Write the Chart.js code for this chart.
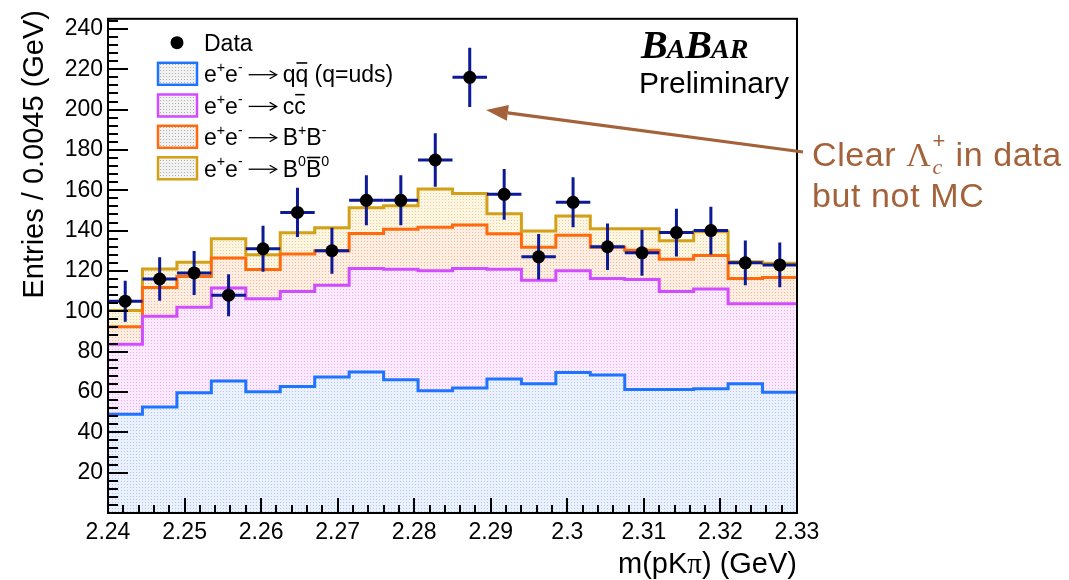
<!DOCTYPE html>
<html>
<head>
<meta charset="utf-8">
<script src="https://cdn.jsdelivr.net/npm/chart.js@4/dist/chart.umd.min.js"></script>
<style>
html,body{margin:0;padding:0;background:#fff;}
#wrap{width:1069px;height:580px;position:relative;}
</style>
</head>
<body>
<div id="wrap"><canvas id="c" width="1069" height="580"></canvas></div>
<script>
// ---- binning (categories) ----
const binLow = 2.24;
const binWidth = 0.0045;

// ---- data ----
const dataCounts = [105,116,119,108,131,149,130,155,155,175,216,158,127,154,132,129,139,140,124,123];
const dataErrors = [10.2,10.8,10.9,10.4,11.4,12.2,11.4,12.4,12.4,13.2,14.7,12.6,11.3,12.4,11.5,11.4,11.8,11.8,11.1,11.1];

// stacked MC components (each is the contribution on top of the one below)
const mcQQ   = [48.9,52.6,59.6,65.5,60.1,62.7,67.4,69.9,66.0,60.6,62.0,66.4,64.1,69.7,68.4,61.2,61.2,61.6,64.1,59.8];
const mcCC   = [34.8,44.9,42.4,46.0,46.1,47.1,45.5,51.3,54.9,59.5,59.2,54.5,51.3,50.4,47.8,54.5,48.6,49.4,39.6,43.9];
const mcBpBm = [ 8.6,14.3,15.2,14.9,14.5,18.6,17.1,17.4,19.8,21.6,21.6,17.5,16.4,17.6,15.6,14.6,16.0,16.6,12.5,13.1];
const mcB0B0 = [ 8.1, 9.2, 7.1, 9.5, 7.3,10.5,11.4,12.7,11.6,18.9,15.6,10.0, 8.0, 9.5, 9.1,10.6, 9.2,11.8, 8.4, 7.0];

// ---- tick labels ----
const xTickValues = [2.24,2.25,2.26,2.27,2.28,2.29,2.30,2.31,2.32,2.33];
const yTickValues = [20,40,60,80,100,120,140,160,180,200,220,240];

// ---- derived bin edges / centres ----
const nBins = dataCounts.length;
const edges = Array.from({length:nBins+1},(_,i)=>+(binLow+i*binWidth).toFixed(6));
const centers = Array.from({length:nBins},(_,i)=>+(binLow+(i+0.5)*binWidth).toFixed(6));
function stepPoints(arr){ return edges.map((x,i)=>({x:x, y:arr[Math.min(i,arr.length-1)]})); }

function dotPattern(base, dot){
  const c=document.createElement('canvas'); c.width=3; c.height=3;
  const g=c.getContext('2d');
  g.fillStyle=base; g.fillRect(0,0,3,3);
  g.fillStyle=dot; g.fillRect(1,1,1,1);
  return g.createPattern(c,'repeat');
}

const COL = {
  qq:'#1f74ff', cc:'#d24cff', bpbm:'#ff6a0c', b0b0:'#d3a017', err:'#0c1a96', anno:'#a4623a'
};
const FILL = {
  qq: dotPattern('rgb(234,241,252)','rgb(175,200,242)'),
  cc: dotPattern('rgb(251,234,253)','rgb(232,175,245)'),
  bpbm: dotPattern('rgb(253,238,228)','rgb(247,185,145)'),
  b0b0: dotPattern('rgb(251,245,226)','rgb(232,208,150)'),
  legend: dotPattern('rgb(242,242,242)','rgb(175,175,175)')
};

const FONT = '"Liberation Sans", Arial, Helvetica, sans-serif';
const SERIF = '"Liberation Serif", "Times New Roman", serif';

function histDS(label, arr, color, fill, fillMode){
  return {
    type:'line', label:label, data:stepPoints(arr), stack:'mc',
    borderColor:color, borderWidth:3, backgroundColor:fill, fill:fillMode,
    stepped:'before', pointRadius:0, pointHoverRadius:0, tension:0, order:1
  };
}

// rich text: segments {t, sup, bar, font, arrow}
function drawRich(ctx, x, y, segs, size, color, family){
  ctx.save();
  ctx.fillStyle=color; ctx.strokeStyle=color; ctx.textBaseline='alphabetic'; ctx.textAlign='left';
  let cx=x;
  for(const s of segs){
    if(s.arrow){
      const ay=y-size*0.33, x0=cx+s.gap, x1=cx+s.arrow-s.gap;
      ctx.lineWidth=1.3;
      ctx.beginPath(); ctx.moveTo(x0,ay); ctx.lineTo(x1-1,ay); ctx.stroke();
      ctx.beginPath(); ctx.moveTo(x1-7,ay-4); ctx.lineTo(x1,ay); ctx.lineTo(x1-7,ay+4); ctx.stroke();
      cx+=s.arrow; continue;
    }
    const fam = s.font || family;
    const sz = s.sup||s.sub ? size*0.62 : size;
    ctx.font = (s.style?s.style+' ':'') + sz+'px '+fam;
    const dy = s.sup ? -size*0.45 : (s.sub ? size*0.22 : 0);
    ctx.fillText(s.t, cx, y+dy);
    const w = ctx.measureText(s.t).width;
    if(s.bar){
      ctx.lineWidth=1.6;
      ctx.beginPath(); ctx.moveTo(cx+1, y-size*0.84); ctx.lineTo(cx+w-1, y-size*0.84); ctx.stroke();
    }
    cx += w;
  }
  ctx.restore();
  return cx;
}

const ee = [{t:'e'},{t:'+',sup:true},{t:'e'},{t:'-',sup:true},{arrow:40,gap:6}];
const legendRows = [
  {key:'qq',   segs:ee.concat([{t:'q'},{t:'q',bar:true},{t:' (q=uds)'}])},
  {key:'cc',   segs:ee.concat([{t:'c'},{t:'c',bar:true}])},
  {key:'bpbm', segs:ee.concat([{t:'B'},{t:'+',sup:true},{t:'B'},{t:'-',sup:true}])},
  {key:'b0b0', segs:ee.concat([{t:'B'},{t:'0',sup:true},{t:'B',bar:true},{t:'0',sup:true}])}
];

const decor = {
  id:'decor',
  beforeDatasetDraw(chart,args){
    const ds = chart.data.datasets[args.index];
    if(ds.id!=='data') return;
    const ctx=chart.ctx, xs=chart.scales.x, ys=chart.scales.y;
    ctx.save();
    ctx.strokeStyle=COL.err; ctx.lineWidth=3; ctx.lineCap='butt';
    for(let i=0;i<nBins;i++){
      const px=xs.getPixelForValue(centers[i]), py=ys.getPixelForValue(dataCounts[i]);
      const x0=xs.getPixelForValue(edges[i]), x1=xs.getPixelForValue(edges[i+1]);
      const yt=ys.getPixelForValue(dataCounts[i]+dataErrors[i]), yb=ys.getPixelForValue(dataCounts[i]-dataErrors[i]);
      ctx.beginPath();
      ctx.moveTo(x0,py); ctx.lineTo(x1,py);
      ctx.moveTo(px,yt); ctx.lineTo(px,yb);
      ctx.stroke();
    }
    ctx.restore();
  },
  afterDatasetsDraw(chart){
    const ctx=chart.ctx, a=chart.chartArea, xs=chart.scales.x, ys=chart.scales.y;
    ctx.save();
    ctx.strokeStyle='#000'; ctx.lineWidth=2;
    ctx.beginPath();
    for(let v=4; v<=ys.max+0.01; v+=4){
      const y=Math.round(ys.getPixelForValue(v));
      const major = (v%20===0);
      ctx.moveTo(a.left, y); ctx.lineTo(a.left+(major?20:10), y);
    }
    for(let k=0;k<=45;k++){
      const v=binLow+k*0.002;
      const x=Math.round(xs.getPixelForValue(v));
      const major=(k%5===0);
      ctx.moveTo(x, a.bottom); ctx.lineTo(x, a.bottom-(major?15:8));
    }
    ctx.stroke();
    ctx.lineWidth=2;
    ctx.strokeRect(a.left, a.top, a.right-a.left, a.bottom-a.top);
    ctx.restore();
  },
  afterDraw(chart){
    const ctx=chart.ctx;
    ctx.save();
    // ---- legend ----
    ctx.fillStyle='#000';
    ctx.beginPath(); ctx.arc(177,42.7,6.5,0,Math.PI*2); ctx.fill();
    ctx.font='23px '+FONT; ctx.textBaseline='alphabetic'; ctx.textAlign='left';
    ctx.fillText('Data',204,51);
    const rowC=[73.8,105.5,136.8,168.3];
    legendRows.forEach((r,i)=>{
      const cy=rowC[i];
      ctx.fillStyle=FILL.legend; ctx.fillRect(158,cy-11,39,22);
      ctx.strokeStyle=COL[r.key]; ctx.lineWidth=2.5; ctx.strokeRect(158,cy-11,39,22);
      drawRich(ctx,204,cy+8.5,r.segs,23,'#000',FONT);
    });
    // ---- BaBar logo ----
    let bx=641;
    const logo=[['B',40],['A',28],['B',40],['A',28],['R',28]];
    for(const [t,s] of logo){
      ctx.font='italic bold '+s+'px '+SERIF; ctx.fillStyle='#000'; ctx.textAlign='left';
      ctx.fillText(t,bx,58);
      bx+=ctx.measureText(t).width-(s===40?1:0);
    }
    ctx.font='30px '+FONT; ctx.textAlign='right'; ctx.fillStyle='#000';
    ctx.fillText('Preliminary',789,93);
    // ---- axis titles ----
    ctx.save();
    ctx.translate(43,10); ctx.rotate(-Math.PI/2);
    ctx.font='29px '+FONT; ctx.textAlign='right'; ctx.fillText('Entries / 0.0045 (GeV)',0,0);
    ctx.restore();
    ctx.textAlign='left';
    const xt=[{t:'m(pK'},{t:'\u03c0',font:SERIF},{t:') (GeV)'}];
    let w=0; for(const s of xt){ ctx.font='29px '+(s.font||FONT); w+=ctx.measureText(s.t).width; }
    drawRich(ctx,797-w,573,xt,29,'#000',FONT);
    // ---- annotation ----
    ctx.strokeStyle=COL.anno; ctx.fillStyle=COL.anno; ctx.lineWidth=3.2;
    const tx=486, ty=110, sx=803, sy=152;
    const ang=Math.atan2(sy-ty,sx-tx);
    const hx=tx+Math.cos(ang)*22, hy=ty+Math.sin(ang)*22;
    ctx.beginPath(); ctx.moveTo(sx,sy); ctx.lineTo(hx,hy); ctx.stroke();
    ctx.beginPath(); ctx.moveTo(tx,ty);
    ctx.lineTo(hx+Math.sin(ang)*8, hy-Math.cos(ang)*8);
    ctx.lineTo(hx-Math.sin(ang)*8, hy+Math.cos(ang)*8);
    ctx.closePath(); ctx.fill();
    ctx.letterSpacing='0.6px';
    let ax=drawRich(ctx,812,166,[{t:'Clear '},{t:'\u039b',font:SERIF}],34,COL.anno,FONT);
    ctx.font='italic 22px '+SERIF; ctx.fillStyle=COL.anno; ctx.textAlign='left';
    ctx.fillText('c',ax+1,174);
    ctx.font='22px '+FONT; ctx.fillText('+',ax+1,148);
    ctx.font='34px '+FONT; ctx.fillText(' in data',ax+14,166);
    ctx.fillText('but not MC',812,207);
    ctx.letterSpacing='0px';
    ctx.restore();
  }
};

Chart.defaults.font.family = FONT;
Chart.defaults.font.size = 23;
Chart.defaults.color = '#000';

new Chart(document.getElementById('c'),{
  type:'line',
  data:{
    datasets:[
      histDS('e+e- \u2192 qq (q=uds)', mcQQ, COL.qq, FILL.qq, 'origin'),
      histDS('e+e- \u2192 cc', mcCC, COL.cc, FILL.cc, '-1'),
      histDS('e+e- \u2192 B+B-', mcBpBm, COL.bpbm, FILL.bpbm, '-1'),
      histDS('e+e- \u2192 B0B0', mcB0B0, COL.b0b0, FILL.b0b0, '-1'),
      {
        id:'data', type:'scatter', label:'Data', stack:'data',
        data: centers.map((x,i)=>({x:x, y:dataCounts[i]})),
        showLine:false, pointRadius:6.5, pointHoverRadius:6.5,
        pointBackgroundColor:'#000', pointBorderWidth:0, order:-1
      }
    ]
  },
  options:{
    responsive:false, animation:false, devicePixelRatio:1,
    layout:{padding:{top:8,right:272,left:0,bottom:0}},
    plugins:{legend:{display:false}, tooltip:{enabled:false}, title:{display:false}},
    scales:{
      x:{
        type:'linear', min:2.24, max:2.33,
        afterBuildTicks:s=>{ s.ticks = xTickValues.map(v=>({value:v})); },
        afterFit:s=>{ s.height=67; },
        ticks:{ autoSkip:false, maxRotation:0, padding:6, color:'#000', font:{size:23},
          callback:v=>String(+(+v).toFixed(3)) },
        grid:{display:false, drawTicks:false}, border:{display:false}
      },
      y:{
        type:'linear', stacked:true, min:0, max:245,
        afterBuildTicks:s=>{ s.ticks = yTickValues.map(v=>({value:v})); },
        afterFit:s=>{ s.width=108; },
        ticks:{ padding:5, color:'#000', font:{size:23}, callback:v=>String(v) },
        grid:{display:false, drawTicks:false}, border:{display:false}
      }
    }
  },
  plugins:[decor]
});
</script>
</body>
</html>
